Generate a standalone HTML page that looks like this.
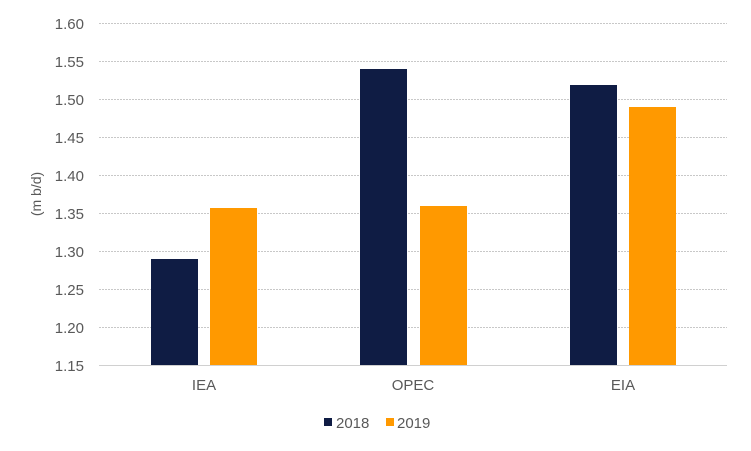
<!DOCTYPE html>
<html><head><meta charset="utf-8"><style>
html,body{margin:0;padding:0;background:#fff;}
svg{display:block;font-family:"Liberation Sans",Arial,sans-serif;}
</style></head><body>
<svg width="751" height="451" viewBox="0 0 751 451" xmlns="http://www.w3.org/2000/svg">
<g stroke="#c8c8c8" stroke-width="1" stroke-dasharray="2,1">
<line x1="99" x2="727" y1="23.5" y2="23.5"/>
<line x1="99" x2="727" y1="61.5" y2="61.5"/>
<line x1="99" x2="727" y1="99.5" y2="99.5"/>
<line x1="99" x2="727" y1="137.5" y2="137.5"/>
<line x1="99" x2="727" y1="175.5" y2="175.5"/>
<line x1="99" x2="727" y1="213.5" y2="213.5"/>
<line x1="99" x2="727" y1="251.5" y2="251.5"/>
<line x1="99" x2="727" y1="289.5" y2="289.5"/>
<line x1="99" x2="727" y1="327.5" y2="327.5"/>
</g>
<g fill="#0f1c44">
<rect x="151" y="259" width="47" height="106"/>
<rect x="360" y="69" width="47" height="296"/>
<rect x="570" y="85" width="47" height="280"/>
</g>
<g fill="#ff9900">
<rect x="210" y="208" width="47" height="157"/>
<rect x="420" y="206" width="47" height="159"/>
<rect x="629" y="107" width="47" height="258"/>
</g>
<line x1="99" x2="727" y1="365.5" y2="365.5" stroke="#d0d0d0" stroke-width="1"/>
<g fill="#595959" font-size="15" text-anchor="end">
<text x="84" y="29">1.60</text>
<text x="84" y="67">1.55</text>
<text x="84" y="105">1.50</text>
<text x="84" y="143">1.45</text>
<text x="84" y="181">1.40</text>
<text x="84" y="219">1.35</text>
<text x="84" y="257">1.30</text>
<text x="84" y="295">1.25</text>
<text x="84" y="333">1.20</text>
<text x="84" y="371">1.15</text>
</g>
<text transform="translate(41,194) rotate(-90)" fill="#595959" font-size="14" text-anchor="middle">(m b/d)</text>
<g fill="#595959" font-size="15" text-anchor="middle">
<text x="204" y="390">IEA</text>
<text x="413" y="390">OPEC</text>
<text x="623" y="390">EIA</text>
</g>
<rect x="324" y="418" width="8" height="8" fill="#0f1c44"/>
<text x="336" y="428" fill="#595959" font-size="15">2018</text>
<rect x="386" y="418" width="8" height="8" fill="#ff9900"/>
<text x="397" y="428" fill="#595959" font-size="15">2019</text>
</svg>
</body></html>
